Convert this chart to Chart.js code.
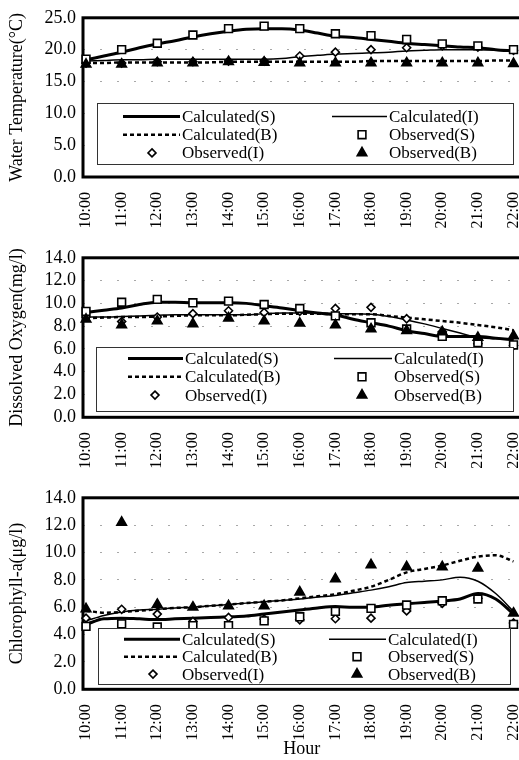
<!DOCTYPE html>
<html><head><meta charset="utf-8">
<script src="https://cdn.jsdelivr.net/npm/chart.js@4/dist/chart.umd.min.js"></script>
<style>
html,body{margin:0;padding:0;background:#fff;overflow:hidden;width:519px;height:760px;}
.panel{position:absolute;left:0;width:540px;}
canvas{display:block;}
</style></head><body>
<div class="panel" style="top:0;height:240px"><canvas id="c1" width="540" height="240"></canvas></div>
<div class="panel" style="top:240px;height:240px"><canvas id="c2" width="540" height="240"></canvas></div>
<div class="panel" style="top:480px;height:280px"><canvas id="c3" width="540" height="280"></canvas></div>
<script>
// ---- data ----
const hours = ['10:00','11:00','12:00','13:00','14:00','15:00','16:00','17:00','18:00','19:00','20:00','21:00','22:00'];
const calcTimes = [0,0.5,1,1.5,2,2.5,3,3.5,4,4.5,5,5.5,6,6.5,7,7.5,8,8.5,9,9.5,10,10.5,11,11.5,12];
const seriesNames = ['Calculated(S)','Calculated(I)','Calculated(B)','Observed(S)','Observed(I)','Observed(B)'];

const wtCalcS = [18.4,19.0,19.6,20.3,20.9,21.4,22.0,22.5,22.9,23.2,23.3,23.3,23.1,22.6,22.1,21.9,21.6,21.3,21.0,20.8,20.6,20.4,20.3,20.0,19.8];
const wtCalcI = [18.2,18.3,18.4,18.4,18.5,18.5,18.5,18.5,18.5,18.5,18.5,18.6,18.9,19.1,19.3,19.4,19.5,19.6,19.8,19.9,20.0,20.0,20.0,19.9,19.8];
const wtCalcB = [17.9,17.9,18.0,18.0,18.0,18.0,18.0,18.0,18.1,18.1,18.1,18.1,18.1,18.1,18.1,18.1,18.2,18.2,18.2,18.2,18.2,18.2,18.2,18.3,18.3];
const wtObsS = [18.5,20.0,21.0,22.3,23.3,23.7,23.3,22.5,22.2,21.6,20.9,20.6,20.0];
const wtObsI = [17.9,17.9,18.1,18.1,18.2,18.2,19.0,19.6,20.0,20.3,20.6,20.4,19.9];
const wtObsB = [17.7,17.7,17.9,17.9,18.1,18.0,17.9,17.9,17.9,17.9,17.9,17.9,17.8];

const doCalcS = [9.2,9.4,9.6,9.9,10.1,10.1,10.05,10.05,10.05,10.0,9.8,9.6,9.35,9.15,9.0,8.6,8.3,8.0,7.6,7.35,7.1,7.1,7.1,6.95,6.8];
const doCalcI = [8.8,8.8,8.85,8.9,8.95,9.0,9.0,9.0,9.0,9.0,9.1,9.15,9.15,9.15,9.1,9.1,9.05,8.85,8.55,8.2,7.8,7.4,7.0,6.9,6.8];
const doCalcB = [8.7,8.75,8.8,8.8,8.85,8.9,8.95,8.95,8.95,9.0,9.05,9.1,9.1,9.1,9.05,9.05,9.05,8.9,8.75,8.6,8.45,8.3,8.1,7.9,7.65];
const doObsS = [9.3,10.1,10.35,10.05,10.2,9.9,9.55,8.9,8.3,7.75,7.1,6.55,6.35];
const doObsI = [8.8,8.4,8.8,9.1,9.35,9.2,9.3,9.55,9.65,8.65,7.5,6.45,6.3];
const doObsB = [8.6,8.1,8.45,8.2,8.7,8.45,8.25,8.1,7.75,7.6,7.5,7.0,7.15];

const chlCalcS = [4.75,5.15,5.2,5.15,5.1,5.15,5.2,5.25,5.3,5.35,5.5,5.65,5.8,5.95,6.05,6.0,6.0,6.15,6.25,6.35,6.45,6.6,7.0,6.6,5.5];
const chlCalcI = [5.0,5.4,5.65,5.8,5.85,5.95,6.0,6.1,6.2,6.3,6.4,6.5,6.6,6.75,6.85,7.05,7.25,7.5,7.8,7.9,8.0,8.2,7.9,7.0,5.7];
const chlCalcB = [5.75,5.6,5.65,5.75,5.85,5.95,6.0,6.1,6.2,6.3,6.4,6.5,6.65,6.8,6.95,7.2,7.5,8.0,8.55,8.8,9.05,9.4,9.7,9.8,9.35];
const chlObsS = [4.6,4.78,4.55,4.65,4.65,5.0,5.3,5.7,5.92,6.16,6.47,6.6,4.75];
const chlObsI = [5.2,5.85,5.5,4.97,5.25,5.13,5.08,5.16,5.2,5.73,6.28,6.65,4.85];
const chlObsB = [5.88,12.2,6.2,6.0,6.1,6.1,7.1,8.07,9.1,8.95,8.95,8.85,5.56];

// ---- rendering ----
const FONT = '"Liberation Serif","Times New Roman",serif';
const obsIdx = hours.map((h, i) => i);

function xy(vals, xs) { return vals.map((v, i) => ({x: xs[i], y: v})); }

function drawMarker(ctx, style, r, x, y, fill, bw) {
  ctx.save();
  ctx.lineWidth = bw; ctx.strokeStyle = '#000'; ctx.fillStyle = fill;
  ctx.setLineDash([]);
  ctx.beginPath();
  if (style === 'rect') {
    const s = r * Math.SQRT1_2;
    ctx.rect(x - s, y - s, 2 * s, 2 * s);
  } else if (style === 'rectRot') {
    ctx.moveTo(x, y - r); ctx.lineTo(x + r, y); ctx.lineTo(x, y + r); ctx.lineTo(x - r, y); ctx.closePath();
  } else {
    ctx.moveTo(x, y - r);
    ctx.lineTo(x + r * Math.sin(2 * Math.PI / 3), y - r * Math.cos(2 * Math.PI / 3));
    ctx.lineTo(x + r * Math.sin(4 * Math.PI / 3), y - r * Math.cos(4 * Math.PI / 3));
    ctx.closePath();
  }
  ctx.fill(); ctx.stroke();
  ctx.restore();
}

function makeChart(id, cfg) {
  const lineDs = (label, vals, width, dash) => ({
    label, data: xy(vals, calcTimes), borderColor: '#000', borderWidth: width,
    borderDash: dash || [], pointRadius: 0, cubicInterpolationMode: 'monotone',
    fill: false, order: 3, clip: false
  });
  const ptDs = (label, vals, style, r, fill, order) => ({
    label, data: xy(vals, obsIdx), showLine: false, pointStyle: style, pointRadius: r,
    pointBackgroundColor: fill, pointBorderColor: '#000', pointBorderWidth: 1.6,
    order, clip: false
  });
  const datasets = [
    lineDs(seriesNames[0], cfg.calcS, 3),
    lineDs(seriesNames[1], cfg.calcI, 1.5),
    lineDs(seriesNames[2], cfg.calcB, 2.5, [4, 3]),
    ptDs(seriesNames[3], cfg.obsS, 'rect', 5.5, '#fff', 1),
    ptDs(seriesNames[4], cfg.obsI, 'rectRot', 4, '#fff', 2),
    ptDs(seriesNames[5], cfg.obsB, 'triangle', 5.5, '#000', 0)
  ];
  const lg = cfg.legend;
  const framePlugin = {
    id: 'frame',
    beforeDatasetsDraw(chart) {
      const {ctx, chartArea: a} = chart;
      ctx.save();
      ctx.strokeStyle = '#000'; ctx.lineWidth = 3; ctx.setLineDash([]);
      ctx.strokeRect(a.left, a.top, a.right - a.left, a.bottom - a.top);
      ctx.restore();
    }
  };
  const legendPlugin = {
    id: 'boxLegend',
    afterDraw(chart) {
      const {ctx, chartArea: a} = chart;
      const x0 = Math.round(a.left + lg.left), w = lg.width, h = lg.height;
      const y0 = Math.round(a.bottom - lg.bottomGap - h);
      ctx.save();
      ctx.fillStyle = '#fff'; ctx.fillRect(x0, y0, w, h);
      ctx.strokeStyle = '#333'; ctx.lineWidth = 1; ctx.setLineDash([]);
      ctx.strokeRect(x0 + 0.5, y0 + 0.5, w, h);
      ctx.font = '17px ' + FONT; ctx.fillStyle = '#000';
      ctx.textBaseline = 'middle'; ctx.textAlign = 'left';
      chart.data.datasets.forEach((ds, i) => {
        const col = lg.cols[i % 2];
        const cy = y0 + lg.first + Math.floor(i / 2) * lg.step;
        if (ds.showLine === false) {
          drawMarker(ctx, ds.pointStyle, ds.pointRadius, x0 + col.marker, cy, ds.pointBackgroundColor, 1.6);
        } else {
          ctx.save();
          ctx.strokeStyle = '#000'; ctx.lineWidth = ds.borderWidth; ctx.setLineDash(ds.borderDash || []);
          ctx.beginPath(); ctx.moveTo(x0 + col.lineFrom, cy); ctx.lineTo(x0 + col.lineTo, cy); ctx.stroke();
          ctx.restore();
        }
        ctx.fillStyle = '#000';
        ctx.fillText(ds.label, x0 + col.text, cy + 1);
      });
      ctx.restore();
    }
  };
  return new Chart(document.getElementById(id), {
    type: 'line',
    data: {datasets},
    plugins: [framePlugin, legendPlugin],
    options: {
      responsive: false, animation: false,
      layout: {padding: {top: cfg.padTop, left: 0, right: 18, bottom: 0}},
      plugins: {legend: {display: false}, tooltip: {enabled: false}},
      scales: {
        x: {
          type: 'linear', min: -0.085, max: 12.2,
          afterBuildTicks: s => { s.ticks = obsIdx.map(i => ({value: i})); },
          afterFit: s => { s.height = cfg.xAxisH; },
          ticks: {autoSkip: false, minRotation: 90, maxRotation: 90, padding: 7, color: '#000',
                  font: {family: FONT, size: 16}, callback: v => hours[v] !== undefined ? hours[v] : ''},
          grid: {display: false}, border: {display: false},
          title: {display: !!cfg.showHour, text: 'Hour', color: '#000', font: {family: FONT, size: 18}, padding: {top: 0, bottom: 0}}
        },
        y: {
          min: 0, max: cfg.yMax,
          afterFit: s => { s.width = 83; },
          ticks: {stepSize: cfg.yStep, autoSkip: false, padding: 7, color: '#000', font: {family: FONT, size: 18},
                  callback: v => Number(v).toFixed(1)},
          grid: {color: '#a8a8a8', lineWidth: 1, drawTicks: false},
          border: {display: false, dash: [2, 15]},
          title: {display: true, text: cfg.yTitle, color: '#000', font: {family: FONT, size: 18}, padding: {top: 6, bottom: 0}}
        }
      }
    }
  });
}

makeChart('c1', {
  yTitle: 'Water Temperature(°C)', yMax: 25, yStep: 5,
  calcS: wtCalcS, calcI: wtCalcI, calcB: wtCalcB, obsS: wtObsS, obsI: wtObsI, obsB: wtObsB,
  padTop: 13, xAxisH: 63,
  legend: {left: 14, width: 416, height: 61, bottomGap: 12.7, first: 13.5, step: 18.2,
           cols: [{lineFrom: 26, lineTo: 83, marker: 55, text: 85}, {lineFrom: 235, lineTo: 290, marker: 265, text: 292}]}
});
makeChart('c2', {
  yTitle: 'Dissolved Oxygen(mg/l)', yMax: 14, yStep: 2,
  calcS: doCalcS, calcI: doCalcI, calcB: doCalcB, obsS: doObsS, obsI: doObsI, obsB: doObsB,
  padTop: 12.7, xAxisH: 62.7,
  legend: {left: 13, width: 417, height: 64, bottomGap: 6.6, first: 11.5, step: 18.3,
           cols: [{lineFrom: 32, lineTo: 87, marker: 59, text: 89}, {lineFrom: 238, lineTo: 296, marker: 266, text: 298}]}
});
makeChart('c3', {
  yTitle: 'Chlorophyll-a(μg/l)', yMax: 14, yStep: 2,
  calcS: chlCalcS, calcI: chlCalcI, calcB: chlCalcB, obsS: chlObsS, obsI: chlObsI, obsB: chlObsB,
  padTop: 14, xAxisH: 70.7, showHour: true,
  legend: {left: 15, width: 412, height: 56, bottomGap: 5.3, first: 11.3, step: 17.4,
           cols: [{lineFrom: 26, lineTo: 82, marker: 55, text: 84}, {lineFrom: 231, lineTo: 288, marker: 259, text: 290}]}
});
</script>
</body></html>
